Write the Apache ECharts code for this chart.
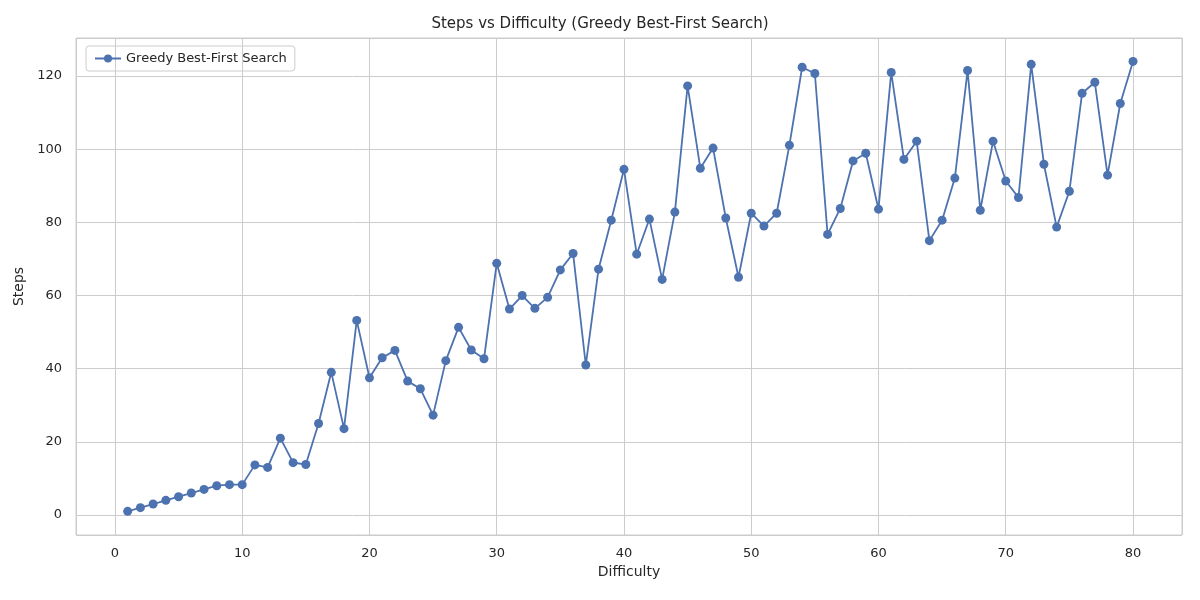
<!DOCTYPE html>
<html>
<head>
<meta charset="utf-8">
<script src="https://cdn.jsdelivr.net/npm/echarts@6/dist/echarts.min.js"></script>
<style>html,body{margin:0;padding:0;background:#fff}#chart{width:1200px;height:600px}</style>
</head>
<body>
<div id="chart"></div>
<script>
// Steps vs Difficulty (Greedy Best-First Search)
const difficulty = [];
for (let i = 1; i <= 80; i++) difficulty.push(i);
const steps = [
    1, 2, 3, 4, 5, 6, 7, 8, 8.3, 8.3,
    13.7, 13, 21, 14.3, 13.8, 25, 39, 23.6, 53.2, 37.5,
    43, 45, 36.6, 34.5, 27.3, 42.2, 51.3, 45.1, 42.7, 68.8,
    56.3, 60, 56.5, 59.5, 67, 71.5, 41, 67.2, 80.6, 94.5,
    71.3, 80.9, 64.4, 82.8, 117.3, 94.8, 100.3, 81.2, 65, 82.5,
    79, 82.5, 101.1, 122.4, 120.7, 76.7, 83.8, 96.8, 98.9, 83.6,
    121, 97.2, 102.2, 75, 80.6, 92.1, 121.5, 83.3, 102.2, 91.3,
    86.8, 123.2, 95.9, 78.7, 88.5, 115.3, 118.3, 92.9, 112.5, 124
];

const font = 'DejaVu Sans';
const chart = echarts.init(document.getElementById('chart'));
chart.setOption({
    animation: false,
    textStyle: { fontFamily: font },
    title: {
        text: 'Steps vs Difficulty (Greedy Best-First Search)',
        left: 'center', top: 12,
        textStyle: { fontFamily: font, fontSize: 15, fontWeight: 'normal', color: '#262626' }
    },
    legend: {
        left: 86, top: 46, orient: 'vertical',
        borderColor: '#ccc', borderWidth: 1, borderRadius: 3, padding: [6, 8],
        itemWidth: 26, itemHeight: 10,
        textStyle: { fontFamily: font, fontSize: 13, color: '#262626' }
    },
    grid: { left: 76, right: 18, top: 38, bottom: 65, show: true, borderColor: '#ccc', borderWidth: 1 },
    xAxis: {
        type: 'value', min: -3.06, max: 83.85, splitNumber: 9,
        name: 'Difficulty', nameLocation: 'middle', nameGap: 30,
        nameTextStyle: { fontFamily: font, fontSize: 14, color: '#262626' },
        axisLine: { show: false }, axisTick: { show: false },
        axisLabel: { showMinLabel: false, showMaxLabel: false, fontSize: 13, color: '#262626', margin: 12 },
        splitLine: { lineStyle: { color: '#ccc', width: 1 } }
    },
    yAxis: {
        type: 'value', min: -5.47, max: 130.4, splitNumber: 7,
        name: 'Steps', nameLocation: 'middle', nameGap: 48,
        nameTextStyle: { fontFamily: font, fontSize: 14, color: '#262626' },
        axisLine: { show: false }, axisTick: { show: false },
        axisLabel: { showMinLabel: false, showMaxLabel: false, fontSize: 13, color: '#262626', margin: 14 },
        splitLine: { lineStyle: { color: '#ccc', width: 1 } }
    },
    series: [{
        name: 'Greedy Best-First Search',
        type: 'line',
        data: difficulty.map((d, i) => [d, steps[i]]),
        symbol: 'circle', symbolSize: 9,
        lineStyle: { color: '#4c72b0', width: 1.8 },
        itemStyle: { color: '#4c72b0' }
    }]
});
</script>
</body>
</html>
